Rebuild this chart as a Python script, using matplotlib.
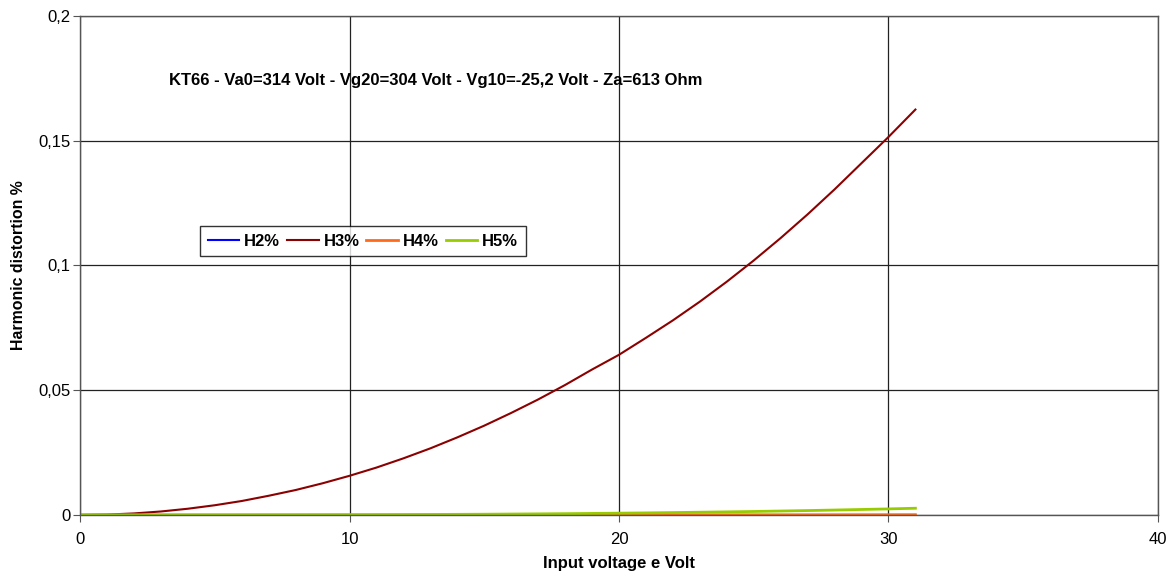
import matplotlib
matplotlib.use("Agg")
import matplotlib.pyplot as plt
from matplotlib.ticker import FuncFormatter, MultipleLocator

plt.rcParams['font.family'] = ['Liberation Sans', 'DejaVu Sans']

# input voltage (Volt)
x = list(range(0, 32))

# harmonic distortion values
h2 = [0.0] * 32
h3 = [0, 0.00015, 0.00062, 0.0014, 0.0025, 0.0039, 0.0056, 0.0077, 0.0100, 0.0127,
      0.0157, 0.0190, 0.0227, 0.0267, 0.0311, 0.0358, 0.0409, 0.0463, 0.0521, 0.0583,
      0.0642, 0.0710, 0.0780, 0.0855, 0.0935, 0.1020, 0.1110, 0.1205, 0.1305, 0.1410,
      0.1515, 0.1625]
h4 = [0, 0, 0, 0, 0, 0, 0, 0.000001, 0.000001, 0.000002,
      0.000003, 0.000004, 0.000005, 0.000007, 0.000009, 0.000011, 0.000014, 0.000017, 0.00002, 0.000024,
      0.000028, 0.000033, 0.000038, 0.000044, 0.00005, 0.000057, 0.000064, 0.000072, 0.00008, 0.00009,
      0.0001, 0.00011]
h5 = [0, 0, 0.000001, 0.000002, 0.000006, 0.000011, 0.00002, 0.00003, 0.000046, 0.000066,
      0.00009, 0.00012, 0.000156, 0.0002, 0.00025, 0.0003, 0.00037, 0.00044, 0.00052, 0.00062,
      0.00072, 0.00083, 0.00096, 0.0011, 0.00124, 0.0014, 0.00158, 0.00177, 0.00198, 0.0022,
      0.00243, 0.0027]

title = "KT66 - Va0=314 Volt - Vg20=304 Volt - Vg10=-25,2 Volt - Za=613 Ohm"

fig = plt.figure(figsize=(11.72, 5.77), dpi=100)
ax = fig.add_axes([0.0683, 0.1075, 0.9197, 0.8648])

ax.plot(x, h2, color="#0000ff", lw=1.5, label="H2%")
ax.plot(x, h3, color="#8b0000", lw=1.5, label="H3%")
ax.plot(x, h4, color="#ff6a1a", lw=2, label="H4%")
ax.plot(x, h5, color="#99cc00", lw=2, label="H5%")

ax.set_xlim(0, 40)
ax.set_ylim(0, 0.2)
ax.xaxis.set_major_locator(MultipleLocator(10))
ax.yaxis.set_major_locator(MultipleLocator(0.05))
fmt = FuncFormatter(lambda v, p: ('%g' % round(v, 4)).replace('.', ','))
ax.yaxis.set_major_formatter(fmt)
ax.xaxis.set_major_formatter(fmt)
ax.grid(True, color="#222222", lw=0.9)
ax.set_axisbelow(True)
for s in ax.spines.values():
    s.set_color("#555555")
    s.set_linewidth(1)
ax.tick_params(direction="out", length=5, color="#555555", labelsize=12)
ax.tick_params(axis="x", pad=7)
ax.tick_params(axis="y", pad=2)

ax.set_xlabel("Input voltage e Volt", fontsize=12, fontweight="bold", labelpad=7)
ax.set_ylabel("Harmonic distortion %", fontsize=11.4, fontweight="bold", labelpad=9)

ax.text(13.2, 0.174, title, fontsize=12, fontweight="bold", ha="center", va="center")

leg = ax.legend(loc="upper left", bbox_to_anchor=(0.1113, 0.579), ncol=4, frameon=True,
                fancybox=False, edgecolor="black", fontsize=12, handlelength=1.9,
                columnspacing=0.4, handletextpad=0.3, borderpad=0.45, borderaxespad=0)
leg.get_frame().set_linewidth(1)
for t in leg.get_texts():
    t.set_fontweight("bold")

fig.savefig("out.png", dpi=100)
